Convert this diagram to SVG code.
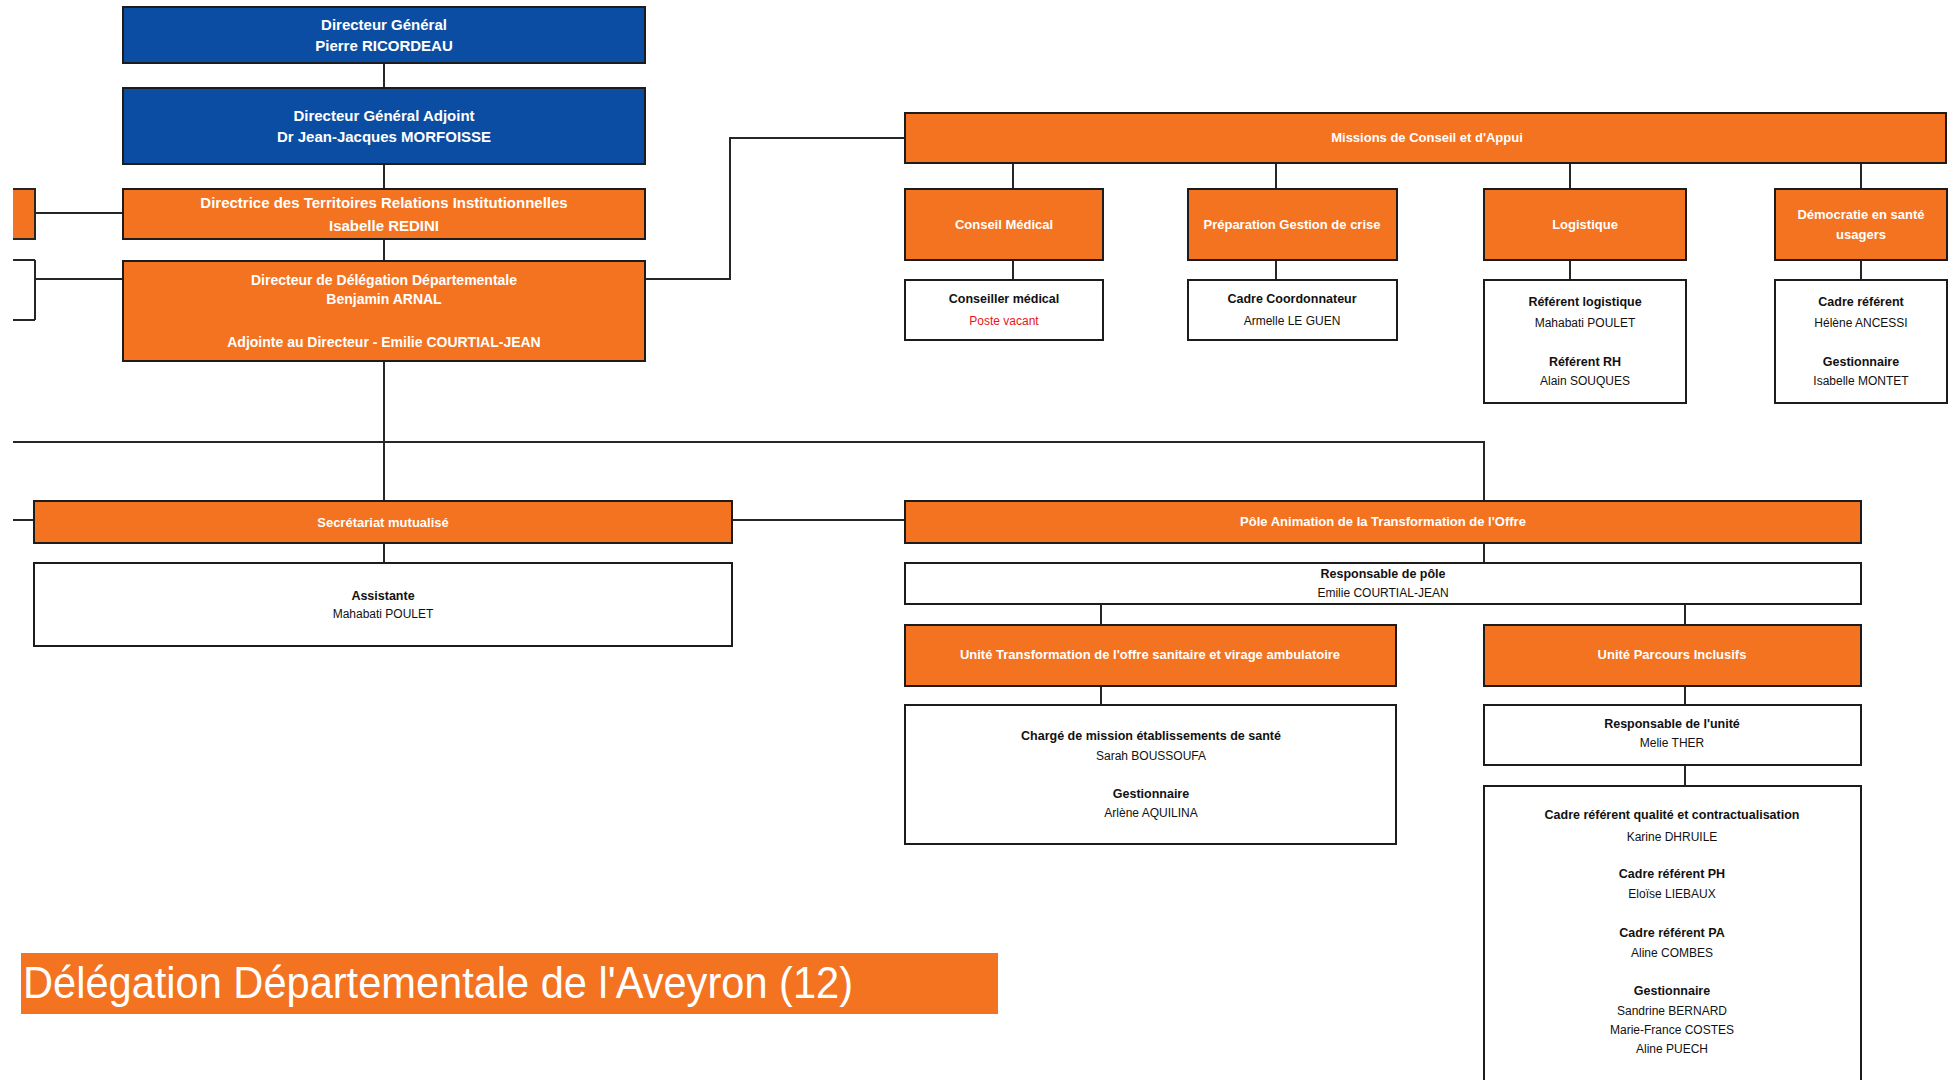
<svg xmlns="http://www.w3.org/2000/svg" width="1953" height="1080" viewBox="0 0 1953 1080">
<style>
.o{fill:#F37321;stroke:#1c1c1c;stroke-width:2}
.b{fill:#0B4DA2;stroke:#1c1c1c;stroke-width:2}
.w{fill:#fff;stroke:#1c1c1c;stroke-width:2}
.c{stroke:#262626;stroke-width:2;fill:none}
text{font-family:"Liberation Sans",Arial,sans-serif;text-anchor:middle;dominant-baseline:central}
.t1{fill:#fff;font-weight:bold;font-size:15px}
.t2{fill:#fff;font-weight:bold;font-size:14px}
.t3{fill:#fff;font-weight:bold;font-size:13px}
.tb{fill:#111;font-weight:bold;font-size:12.5px}
.tn{fill:#111;font-size:12px}
.tr{fill:#E8151B;font-size:12px}
</style>
<rect width="1953" height="1080" fill="#fff"/>
<g id="connectors">
<path class="c" d="M384 63V88M384 164V189M384 239V261M384 361V501M13 442H1484V501"/>
<path class="c" d="M35 213H122M35 260V320M13 260H35M13 320H35M35 279H122"/>
<path class="c" d="M645 279H730V138H905"/>
<path class="c" d="M1013 163V189M1276 163V189M1570 163V189M1861 163V189"/>
<path class="c" d="M1013 260V280M1276 260V280M1570 260V280M1861 260V280"/>
<path class="c" d="M13 520H34M732 520H905M384 543V563"/>
<path class="c" d="M1484 543V564M1101 604V625M1685 604V625M1101 686V705M1685 686V705M1685 765V786"/>
</g>
<g id="partial-left">
<rect x="13" y="189" width="22" height="50" fill="#F37321"/>
<path class="c" d="M13 189H35V239H13"/>
</g>
<g id="dg">
<rect class="b" x="123" y="7" width="522" height="56"/>
<text class="t1" x="384" y="24">Directeur Général</text>
<text class="t1" x="384" y="45">Pierre RICORDEAU</text>
</g>
<g id="dga">
<rect class="b" x="123" y="88" width="522" height="76"/>
<text class="t1" x="384" y="115">Directeur Général Adjoint</text>
<text class="t1" x="384" y="136">Dr Jean-Jacques MORFOISSE</text>
</g>
<g id="dtri">
<rect class="o" x="123" y="189" width="522" height="50"/>
<text class="t1" x="384" y="202">Directrice des Territoires Relations Institutionnelles</text>
<text class="t1" x="384" y="225">Isabelle REDINI</text>
</g>
<g id="ddd">
<rect class="o" x="123" y="261" width="522" height="100"/>
<text class="t2" x="384" y="280">Directeur de Délégation Départementale</text>
<text class="t2" x="384" y="299">Benjamin ARNAL</text>
<text class="t2" x="384" y="342">Adjointe au Directeur - Emilie COURTIAL-JEAN</text>
</g>
<g id="missions">
<rect class="o" x="905" y="113" width="1041" height="50"/>
<text class="t3" x="1427" y="137">Missions de Conseil et d'Appui</text>
</g>
<g id="conseil-medical">
<rect class="o" x="905" y="189" width="198" height="71"/>
<text class="t3" x="1004" y="224">Conseil Médical</text>
</g>
<g id="conseiller-medical">
<rect class="w" x="905" y="280" width="198" height="60"/>
<text class="tb" x="1004" y="299">Conseiller médical</text>
<text class="tr" x="1004" y="321">Poste vacant</text>
</g>
<g id="preparation">
<rect class="o" x="1188" y="189" width="209" height="71"/>
<text class="t3" x="1292" y="224">Préparation Gestion de crise</text>
</g>
<g id="cadre-coordonnateur">
<rect class="w" x="1188" y="280" width="209" height="60"/>
<text class="tb" x="1292" y="299">Cadre Coordonnateur</text>
<text class="tn" x="1292" y="321">Armelle LE GUEN</text>
</g>
<g id="logistique">
<rect class="o" x="1484" y="189" width="202" height="71"/>
<text class="t3" x="1585" y="224">Logistique</text>
</g>
<g id="referents-logistique">
<rect class="w" x="1484" y="280" width="202" height="123"/>
<text class="tb" x="1585" y="302">Référent logistique</text>
<text class="tn" x="1585" y="323">Mahabati POULET</text>
<text class="tb" x="1585" y="362">Référent RH</text>
<text class="tn" x="1585" y="381">Alain SOUQUES</text>
</g>
<g id="democratie">
<rect class="o" x="1775" y="189" width="172" height="71"/>
<text class="t3" x="1861" y="214">Démocratie en santé</text>
<text class="t3" x="1861" y="234">usagers</text>
</g>
<g id="cadre-referent">
<rect class="w" x="1775" y="280" width="172" height="123"/>
<text class="tb" x="1861" y="302">Cadre référent</text>
<text class="tn" x="1861" y="323">Hélène ANCESSI</text>
<text class="tb" x="1861" y="362">Gestionnaire</text>
<text class="tn" x="1861" y="381">Isabelle MONTET</text>
</g>
<g id="secretariat">
<rect class="o" x="34" y="501" width="698" height="42"/>
<text class="t3" x="383" y="522">Secrétariat mutualisé</text>
</g>
<g id="assistante">
<rect class="w" x="34" y="563" width="698" height="83"/>
<text class="tb" x="383" y="596">Assistante</text>
<text class="tn" x="383" y="614">Mahabati POULET</text>
</g>
<g id="pole">
<rect class="o" x="905" y="501" width="956" height="42"/>
<text class="t3" x="1383" y="521">Pôle Animation de la Transformation de l'Offre</text>
</g>
<g id="responsable-pole">
<rect class="w" x="905" y="563" width="956" height="41"/>
<text class="tb" x="1383" y="574">Responsable de pôle</text>
<text class="tn" x="1383" y="593">Emilie COURTIAL-JEAN</text>
</g>
<g id="unite-transformation">
<rect class="o" x="905" y="625" width="491" height="61"/>
<text class="t3" x="1150" y="654">Unité Transformation de l'offre sanitaire et virage ambulatoire</text>
</g>
<g id="charge-mission">
<rect class="w" x="905" y="705" width="491" height="139"/>
<text class="tb" x="1151" y="736">Chargé de mission établissements de santé</text>
<text class="tn" x="1151" y="756">Sarah BOUSSOUFA</text>
<text class="tb" x="1151" y="794">Gestionnaire</text>
<text class="tn" x="1151" y="813">Arlène AQUILINA</text>
</g>
<g id="unite-parcours">
<rect class="o" x="1484" y="625" width="377" height="61"/>
<text class="t3" x="1672" y="654">Unité Parcours Inclusifs</text>
</g>
<g id="responsable-unite">
<rect class="w" x="1484" y="705" width="377" height="60"/>
<text class="tb" x="1672" y="724">Responsable de l'unité</text>
<text class="tn" x="1672" y="743">Melie THER</text>
</g>
<g id="cadres-parcours">
<rect class="w" x="1484" y="786" width="377" height="320"/>
<text class="tb" x="1672" y="815">Cadre référent qualité et contractualisation</text>
<text class="tn" x="1672" y="837">Karine DHRUILE</text>
<text class="tb" x="1672" y="874">Cadre référent PH</text>
<text class="tn" x="1672" y="894">Eloïse LIEBAUX</text>
<text class="tb" x="1672" y="933">Cadre référent PA</text>
<text class="tn" x="1672" y="953">Aline COMBES</text>
<text class="tb" x="1672" y="991">Gestionnaire</text>
<text class="tn" x="1672" y="1011">Sandrine BERNARD</text>
<text class="tn" x="1672" y="1030">Marie-France COSTES</text>
<text class="tn" x="1672" y="1049">Aline PUECH</text>
</g>
<g id="title">
<rect x="21" y="953" width="977" height="61" fill="#F37321"/>
<text x="23" y="982" textLength="830" lengthAdjust="spacingAndGlyphs" style="text-anchor:start;fill:#fff;font-size:44px">Délégation Départementale de l'Aveyron (12)</text>
</g>
</svg>
